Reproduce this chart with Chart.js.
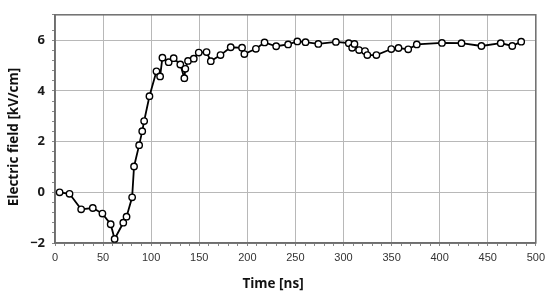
<!DOCTYPE html>
<html>
<head>
<meta charset="utf-8">
<script src="https://cdn.jsdelivr.net/npm/chart.js@4"></script>
<style>
  html, body { margin: 0; padding: 0; background: #fff; }
  #wrap { width: 550px; height: 297px; position: relative; }
</style>
</head>
<body>
<div id="wrap"><canvas id="fieldChart"></canvas></div>
<script>
// time in ns, field in kV/cm
const timeNs = [4.8, 15.1, 27.2, 39.3, 49.3, 57.9, 62.0, 71.0, 74.4, 80.2, 82.2, 87.5, 90.7, 92.7, 98.2,
    105.5, 109.3, 111.7, 118.2, 123.4, 130.3, 134.5, 135.5, 138.3, 144.3, 149.5, 157.6, 162.0, 172.1,
    182.7, 194.5, 196.9, 208.9, 217.9, 230.0, 242.4, 252.0, 260.5, 273.8, 292.1, 305.5, 309.0, 311.4,
    316.2, 322.4, 324.8, 334.2, 349.7, 357.2, 367.3, 376.2, 402.4, 422.7, 443.4, 463.5, 475.5, 484.8];
const fieldKv = [0.0, -0.06, -0.67, -0.62, -0.84, -1.26, -1.84, -1.2, -0.96, -0.2, 1.02, 1.86, 2.41, 2.81, 3.79,
    4.77, 4.57, 5.31, 5.13, 5.29, 5.04, 4.5, 4.87, 5.18, 5.27, 5.51, 5.53, 5.17, 5.41,
    5.72, 5.7, 5.45, 5.66, 5.91, 5.76, 5.83, 5.95, 5.92, 5.85, 5.93, 5.88, 5.7, 5.85,
    5.61, 5.57, 5.41, 5.41, 5.65, 5.69, 5.64, 5.83, 5.89, 5.88, 5.77, 5.88, 5.77, 5.94];

const xMajor = [0, 50, 100, 150, 200, 250, 300, 350, 400, 450, 500];
const yMajor = [-2, 0, 2, 4, 6];
const xMinorStep = 10;
const yMinorStep = 0.4;

function isMajor(list, v) {
    return list.some(m => Math.abs(m - v) < 1e-6);
}

// frame on top/right + axis titles
const framePlugin = {
    id: 'frame',
    beforeDatasetsDraw(chart) {
        const { ctx, chartArea: a } = chart;
        ctx.save();
        ctx.strokeStyle = '#6e6e6e';
        ctx.lineWidth = 1.5;
        ctx.strokeRect(a.left, a.top, a.right - a.left, a.bottom - a.top);
        ctx.restore();
    },
    afterDraw(chart) {
        const ctx = chart.ctx;
        ctx.save();
        ctx.fillStyle = '#111';
        ctx.font = 'bold 13.5px "Open Sans"';
        ctx.textAlign = 'center';
        ctx.textBaseline = 'middle';
        ctx.fillText('Time [ns]', 273, 284);
        ctx.translate(14, 137);
        ctx.rotate(-Math.PI / 2);
        ctx.fillText('Electric field [kV/cm]', 0, 0);
        ctx.restore();
    }
};

const ctx = document.getElementById('fieldChart').getContext('2d');
new Chart(ctx, {
    type: 'line',
    data: {
        datasets: [{
            data: timeNs.map((t, i) => ({ x: t, y: fieldKv[i] })),
            borderColor: '#000',
            borderWidth: 1.8,
            pointRadius: 3.2,
            pointBorderWidth: 1.4,
            pointBackgroundColor: '#fff',
            pointBorderColor: '#000',
            tension: 0
        }]
    },
    options: {
        responsive: true,
        maintainAspectRatio: false,
        animation: false,
        layout: { padding: { left: 0, right: 12, top: 6, bottom: 0 } },
        plugins: {
            legend: { display: false },
            tooltip: { enabled: false }
        },
        scales: {
            x: {
                type: 'linear',
                min: 0,
                max: 500,
                afterFit: s => { s.height = 54; },
                border: { color: '#6e6e6e', width: 1.5 },
                grid: {
                    color: c => isMajor(xMajor, c.tick.value) ? '#b8b8b8' : 'rgba(0,0,0,0)',
                    tickColor: '#888',
                    tickLength: 3,
                    lineWidth: 1
                },
                ticks: {
                    stepSize: xMinorStep,
                    autoSkip: false,
                    maxRotation: 0,
                    padding: 5,
                    color: '#333',
                    font: { family: '"Liberation Sans"', size: 11 },
                    callback: v => isMajor(xMajor, v) ? String(v) : ''
                }
            },
            y: {
                min: -2,
                max: 7,
                afterFit: s => { s.width = 55; },
                border: { color: '#6e6e6e', width: 1.5 },
                grid: {
                    color: c => isMajor(yMajor, c.tick.value) ? '#b8b8b8' : 'rgba(0,0,0,0)',
                    tickColor: '#888',
                    tickLength: 3,
                    lineWidth: 1
                },
                ticks: {
                    stepSize: yMinorStep,
                    autoSkip: false,
                    padding: 7,
                    color: '#1a1a1a',
                    font: { family: '"Open Sans"', size: 13, weight: 'bold' },
                    callback: v => isMajor(yMajor, v) ? String(Math.round(v)).replace('-', '\u2212') : ''
                }
            }
        }
    },
    plugins: [framePlugin]
});
</script>
</body>
</html>
